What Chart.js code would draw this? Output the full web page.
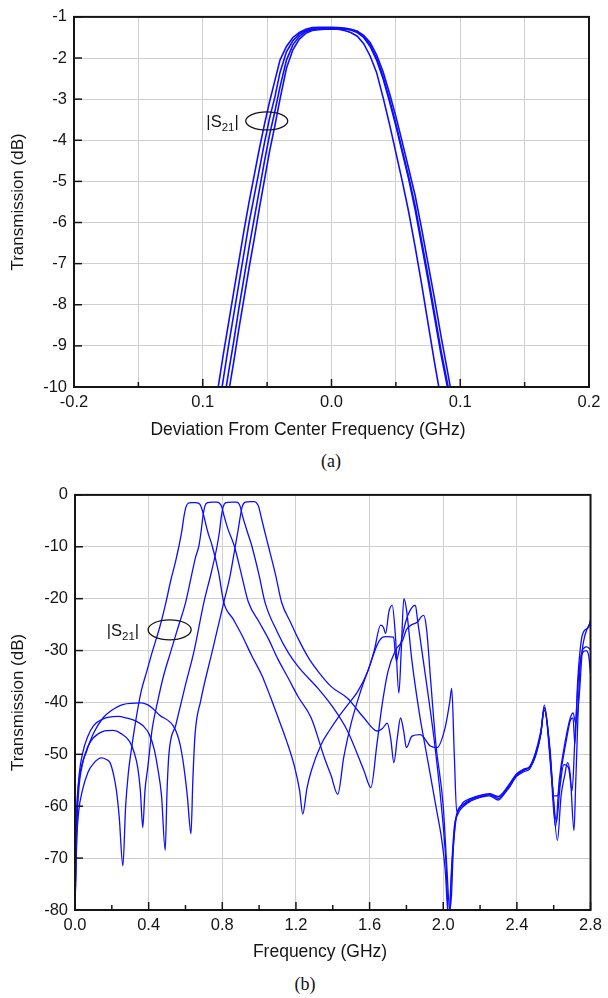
<!DOCTYPE html>
<html>
<head>
<meta charset="utf-8">
<script src="https://cdn.jsdelivr.net/npm/chart.js@4.4.1/dist/chart.umd.min.js"></script>
<style>
  html, body { margin: 0; padding: 0; background: #fff; }
  body { width: 608px; height: 998px; position: relative; overflow: hidden; }
  .panel { position: absolute; left: 0; width: 608px; }
  .caption {
    position: absolute; font-family: "Liberation Serif", "Times New Roman", serif;
    font-size: 18px; color: #111; width: 40px; text-align: center;
  }
</style>
</head>
<body>
<div class="panel" style="top:0;height:445px"><canvas id="chartA" width="608" height="445"></canvas></div>
<div class="caption" style="top:451px;left:311px">(a)</div>
<div class="panel" style="top:478px;height:492px"><canvas id="chartB" width="608" height="492"></canvas></div>
<div class="caption" style="top:974px;left:285px">(b)</div>

<script>
// ---- (a) deviation from centre frequency, four tuned states ----
const offsetGHz = [-0.092, -0.088, -0.084, -0.08, -0.076, -0.072, -0.068, -0.064, -0.06, -0.056, -0.052, -0.048, -0.044, -0.04, -0.035, -0.03, -0.025, -0.02, -0.015, -0.01, -0.005, 0, 0.005, 0.01, 0.015, 0.02, 0.025, 0.03, 0.035, 0.04, 0.045, 0.05, 0.055, 0.06, 0.065, 0.07, 0.075, 0.08, 0.085, 0.09, 0.094];
const s21StateA = [-10.8, -10.0, -9.2, -8.45, -7.7, -6.95, -6.2, -5.5, -4.85, -4.2, -3.6, -3.05, -2.55, -2.05, -1.72, -1.5, -1.38, -1.3, -1.26, -1.25, -1.25, -1.25, -1.26, -1.27, -1.3, -1.35, -1.48, -1.68, -2.0, -2.45, -3.0, -3.6, -4.25, -4.9, -5.6, -6.45, -7.3, -8.2, -9.1, -9.9, -10.6];
const s21StateB = [-11.4, -10.6, -9.8, -9.0, -8.25, -7.5, -6.75, -6.0, -5.35, -4.7, -4.05, -3.45, -2.95, -2.35, -1.85, -1.58, -1.42, -1.33, -1.28, -1.27, -1.27, -1.27, -1.28, -1.29, -1.32, -1.38, -1.5, -1.72, -2.05, -2.5, -3.05, -3.65, -4.3, -4.95, -5.7, -6.55, -7.4, -8.3, -9.2, -10.0, -10.7];
const s21StateC = [-12.1, -11.3, -10.45, -9.65, -8.9, -8.1, -7.35, -6.6, -5.9, -5.2, -4.5, -3.85, -3.3, -2.7, -2.05, -1.68, -1.47, -1.36, -1.31, -1.29, -1.28, -1.29, -1.3, -1.33, -1.38, -1.47, -1.65, -1.95, -2.35, -2.95, -3.6, -4.3, -5.0, -5.75, -6.6, -7.5, -8.45, -9.4, -10.3, -11.2, -11.9];
const s21StateD = [-12.6, -11.8, -10.95, -10.15, -9.4, -8.6, -7.85, -7.1, -6.4, -5.65, -4.95, -4.25, -3.65, -3.0, -2.25, -1.8, -1.54, -1.4, -1.33, -1.31, -1.3, -1.3, -1.3, -1.3, -1.31, -1.35, -1.45, -1.62, -1.92, -2.33, -2.85, -3.42, -4.05, -4.7, -5.35, -6.15, -7.0, -7.85, -8.75, -9.6, -10.3];
const xLabelsA = ['-0.2', '0.1', '0.0', '0.1', '0.2'];

// ---- (b) wide-band response, four tuned states ----
const freqA = [0, 0.005, 0.01, 0.02, 0.04, 0.07, 0.1, 0.144, 0.17, 0.19, 0.21, 0.225, 0.24, 0.26, 0.275, 0.29, 0.305, 0.33, 0.359, 0.39, 0.42, 0.46, 0.494, 0.52, 0.545, 0.565, 0.58, 0.592, 0.603, 0.615, 0.63, 0.655, 0.67, 0.68, 0.69, 0.70, 0.72, 0.745, 0.78, 0.808, 0.86, 0.906, 0.96, 1.014, 1.06, 1.104, 1.15, 1.194, 1.22, 1.237, 1.26, 1.283, 1.337, 1.38, 1.427, 1.48, 1.535, 1.589, 1.625, 1.66, 1.675, 1.687, 1.705, 1.723, 1.74, 1.759, 1.772, 1.786, 1.80, 1.83, 1.87, 1.92, 1.96, 1.99, 2.01, 2.03, 2.045, 2.06, 2.08, 2.11, 2.15, 2.2, 2.25, 2.3, 2.35, 2.4, 2.44, 2.47, 2.5, 2.53, 2.549, 2.565, 2.58, 2.61, 2.63, 2.66, 2.69, 2.705, 2.72, 2.74, 2.755, 2.77, 2.8];
const lossA = [-80, -72, -66, -61, -57, -53.5, -51.8, -50.7, -51, -51.6, -54, -57, -62, -71.5, -60, -53.5, -49.4, -43.5, -37.9, -34, -30.2, -25.5, -20.7, -16.5, -13, -9.8, -7, -4.1, -2.3, -1.6, -1.5, -1.5, -1.6, -1.9, -2.8, -4.1, -7, -9.8, -15, -20.7, -24, -27, -31, -34.7, -38.8, -43, -47.5, -52.6, -57, -61.5, -56.5, -53.2, -48.1, -45.5, -43, -40.5, -37.9, -34.1, -30, -25.1, -25.5, -26.7, -22.5, -21.3, -27, -38.2, -30, -20, -22, -32, -42, -52, -60, -66, -72, -82, -72, -64, -61.5, -60, -59, -58.3, -58, -58.8, -56.5, -54, -53, -52.5, -50.5, -46, -41, -44, -50, -64, -55, -48, -43, -42, -44, -38, -30, -27, -24.5];

const freqB = [0, 0.005, 0.01, 0.02, 0.04, 0.07, 0.1, 0.15, 0.206, 0.25, 0.296, 0.32, 0.341, 0.355, 0.368, 0.38, 0.395, 0.42, 0.449, 0.48, 0.52, 0.56, 0.601, 0.63, 0.655, 0.673, 0.685, 0.695, 0.705, 0.72, 0.745, 0.77, 0.785, 0.797, 0.81, 0.83, 0.865, 0.905, 0.942, 1.0, 1.05, 1.1, 1.158, 1.212, 1.283, 1.355, 1.39, 1.427, 1.46, 1.5, 1.55, 1.6, 1.64, 1.668, 1.69, 1.73, 1.745, 1.76, 1.8, 1.835, 1.849, 1.86, 1.9, 1.95, 1.99, 2.015, 2.03, 2.05, 2.07, 2.11, 2.15, 2.2, 2.25, 2.3, 2.35, 2.4, 2.44, 2.47, 2.5, 2.53, 2.549, 2.585, 2.62, 2.64, 2.66, 2.675, 2.69, 2.71, 2.72, 2.745, 2.765, 2.78, 2.8];
const lossB = [-80, -72, -64, -57, -52, -48.5, -46.8, -45.6, -45.4, -46, -47.5, -49.5, -52.6, -57, -64.1, -57, -52.6, -44.9, -39.8, -35, -30.2, -25.5, -20.7, -16, -12, -9.8, -7, -4.1, -2.2, -1.5, -1.4, -1.4, -1.6, -2.3, -4.1, -6.5, -9.8, -15.5, -20.7, -24.5, -27.7, -31.5, -35.3, -38.9, -43, -50.7, -54, -57.7, -50.5, -44, -38, -33, -29, -27.5, -27.3, -27.4, -32, -30, -24, -21.5, -21.3, -24, -34, -47, -60, -71, -82, -70, -62.5, -59.8, -58.8, -58.2, -57.8, -58.5, -56.8, -54.2, -53.3, -52.8, -50.2, -46, -40.5, -52, -66.6, -58, -54, -51.6, -54, -64.7, -55, -32, -29.5, -29.3, -29.8];

const freqC = [0, 0.005, 0.01, 0.02, 0.04, 0.07, 0.1, 0.15, 0.233, 0.28, 0.332, 0.37, 0.404, 0.43, 0.449, 0.47, 0.49, 0.50, 0.51, 0.548, 0.60, 0.646, 0.70, 0.74, 0.772, 0.785, 0.795, 0.805, 0.82, 0.85, 0.875, 0.888, 0.898, 0.91, 0.935, 0.96, 1.0, 1.032, 1.1, 1.16, 1.212, 1.32, 1.39, 1.48, 1.57, 1.607, 1.64, 1.67, 1.70, 1.74, 1.78, 1.80, 1.83, 1.86, 1.88, 1.894, 1.91, 1.93, 1.96, 2.0, 2.02, 2.035, 2.045, 2.055, 2.07, 2.11, 2.15, 2.2, 2.25, 2.3, 2.35, 2.4, 2.44, 2.47, 2.5, 2.53, 2.549, 2.59, 2.615, 2.635, 2.655, 2.68, 2.7, 2.715, 2.735, 2.755, 2.775, 2.79, 2.8];
const lossC = [-80, -70, -62, -55, -50, -46.5, -44.5, -43.2, -42.7, -43, -43.6, -44.5, -46.2, -49, -52.6, -58, -68.5, -57, -50, -44.3, -36.6, -30.2, -20.7, -15, -9.8, -7, -4.1, -2.3, -1.5, -1.4, -1.4, -1.6, -2.3, -4.1, -7, -9.8, -15.5, -20.7, -26.5, -30.5, -33.1, -37.3, -40.4, -45.5, -53.2, -56.4, -48, -40, -34, -30, -28, -26, -25, -24.5, -23.5, -23.2, -26, -35, -48, -60, -72, -80, -77, -68, -62, -59.6, -58.6, -58, -57.7, -58.2, -56.4, -53.9, -53, -52.4, -50, -46, -41, -55, -63, -56, -52, -52.5, -57, -47, -35, -30.5, -30, -31, -34.5];

const freqD = [0, 0.004, 0.01, 0.027, 0.063, 0.1, 0.152, 0.2, 0.26, 0.36, 0.41, 0.458, 0.54, 0.57, 0.592, 0.61, 0.63, 0.64, 0.652, 0.682, 0.745, 0.808, 0.84, 0.871, 0.885, 0.898, 0.908, 0.925, 0.955, 0.975, 0.987, 0.998, 1.01, 1.03, 1.05, 1.09, 1.122, 1.17, 1.212, 1.27, 1.32, 1.39, 1.48, 1.57, 1.642, 1.67, 1.696, 1.715, 1.732, 1.75, 1.768, 1.785, 1.80, 1.83, 1.876, 1.93, 1.966, 2.01, 2.035, 2.046, 2.06, 2.073, 2.11, 2.15, 2.2, 2.25, 2.3, 2.35, 2.4, 2.44, 2.47, 2.5, 2.53, 2.549, 2.58, 2.60, 2.62, 2.645, 2.67, 2.69, 2.705, 2.715, 2.73, 2.75, 2.77, 2.79, 2.8];
const lossD = [-80, -68, -60, -53.8, -49.4, -46, -43, -41.5, -40.4, -40.1, -40.8, -42.4, -44.9, -48, -52.6, -58, -65.3, -55, -46.2, -39.8, -30.2, -20.7, -16, -9.8, -7, -4.1, -2.3, -1.4, -1.3, -1.3, -1.6, -2.3, -4.1, -7, -9.8, -15.5, -20.7, -24.5, -27.7, -31.5, -34, -36.9, -39.2, -43, -45.5, -45, -44, -47, -51.6, -47, -43, -45.5, -48.7, -46.5, -46.2, -48.4, -48.7, -44.9, -40, -37.3, -50, -61, -59.2, -58.5, -57.9, -57.6, -58.1, -56.2, -53.7, -52.8, -52.3, -49.8, -45.5, -41.5, -49, -58, -58, -52, -47, -43.5, -43, -48, -36, -28, -26, -25.5, -24];
const xLabelsB = ['0.0', '0.4', '0.8', '1.2', '1.6', '2.0', '2.4', '2.8'];

// |S21| marker position (data coords of ellipse centre)
const markerA = [-0.0503, -3.53];
const markerB = [0.514, -26.0];

const LINE_BLUE = '#0d0dff';
const GRID_GREY = '#cfcfcf';
const INK = '#151515';
const SANS = '"Liberation Sans", Arial, Helvetica, sans-serif';

const toPoints = (xs, ys) => xs.map((x, i) => ({ x: x, y: ys[i] }));

// inward tick marks, black frame, x title and the |S21| ellipse label
const paperFrame = {
  id: 'paperFrame',
  afterDatasetsDraw(chart, args, opts) {
    const { ctx, chartArea: a, scales } = chart;
    ctx.save();
    ctx.strokeStyle = INK;
    ctx.lineWidth = 1.5;
    scales.x.ticks.forEach((t, i) => {
      const px = scales.x.getPixelForValue(t.value);
      const len = i % 2 === 0 ? 8 : 5;
      ctx.beginPath();
      ctx.moveTo(px, a.bottom);
      ctx.lineTo(px, a.bottom - len);
      ctx.stroke();
    });
    scales.y.ticks.forEach((t) => {
      const py = scales.y.getPixelForValue(t.value);
      ctx.beginPath();
      ctx.moveTo(a.left, py);
      ctx.lineTo(a.left + 8, py);
      ctx.stroke();
    });
    ctx.lineWidth = 2;
    ctx.strokeRect(a.left, a.top, a.right - a.left, a.bottom - a.top);

    // x axis title (sits left of the plot centre in the original)
    ctx.fillStyle = INK;
    ctx.font = '17.5px ' + SANS;
    ctx.textAlign = 'center';
    ctx.textBaseline = 'middle';
    ctx.fillText(opts.xTitle, opts.xTitleX, a.bottom + opts.xTitleDy);

    // ellipse + |S21|
    const cx = scales.x.getPixelForValue(opts.at[0]);
    const cy = scales.y.getPixelForValue(opts.at[1]);
    ctx.lineWidth = 1.3;
    ctx.beginPath();
    ctx.ellipse(cx, cy, opts.rx, opts.ry, 0, 0, Math.PI * 2);
    ctx.stroke();

    ctx.textAlign = 'left';
    ctx.textBaseline = 'alphabetic';
    const big = '16.5px ' + SANS;
    const small = '11.5px ' + SANS;
    ctx.font = big;
    const w1 = ctx.measureText('|S').width;
    const w3 = ctx.measureText('|').width;
    ctx.font = small;
    const w2 = ctx.measureText('21').width;
    let x = cx - opts.rx - opts.gap - (w1 + w2 + w3);
    const base = cy + 6;
    ctx.font = big;
    ctx.fillText('|S', x, base);
    x += w1;
    ctx.font = small;
    ctx.fillText('21', x, base + 4);
    x += w2;
    ctx.font = big;
    ctx.fillText('|', x, base);
    ctx.restore();
  }
};

function lineSet(points, smooth, width) {
  return {
    data: points,
    borderColor: LINE_BLUE,
    borderWidth: width,
    pointRadius: 0,
    fill: false,
    tension: 0,
    cubicInterpolationMode: smooth ? 'monotone' : 'default'
  };
}

function buildOptions(cfg) {
  return {
    responsive: false,
    animation: false,
    layout: { padding: cfg.padding },
    plugins: {
      legend: { display: false },
      tooltip: { enabled: false },
      paperFrame: cfg.marker
    },
    scales: {
      x: {
        type: 'linear',
        min: cfg.xMin,
        max: cfg.xMax,
        afterFit: (s) => { s.height = cfg.xHeight; },
        border: { display: false },
        grid: {
          drawTicks: false,
          lineWidth: 1,
          color: (c) => (cfg.xGridEvery === 1 || c.index % 2 === 0) ? GRID_GREY : 'rgba(0,0,0,0)'
        },
        ticks: {
          stepSize: cfg.xStep,
          autoSkip: false,
          maxRotation: 0,
          padding: 6,
          color: INK,
          font: { family: SANS, size: 16.5 },
          callback: (v, i) => (i % 2 === 0 ? cfg.xLabels[i / 2] : '')
        },
        title: { display: false }
      },
      y: {
        min: cfg.yMin,
        max: cfg.yMax,
        afterFit: (s) => { s.width = cfg.yWidth; },
        border: { display: false },
        grid: { drawTicks: false, color: GRID_GREY, lineWidth: 1 },
        ticks: {
          stepSize: cfg.yStep,
          padding: 7,
          color: INK,
          font: { family: SANS, size: 16.5 },
          callback: (v) => String(v)
        },
        title: {
          display: true,
          text: 'Transmission (dB)',
          color: INK,
          padding: { top: 8, bottom: 0 },
          font: { family: SANS, size: 17 }
        }
      }
    }
  };
}

new Chart(document.getElementById('chartA'), {
  type: 'line',
  data: {
    datasets: [s21StateA, s21StateB, s21StateC, s21StateD].map((ys) => lineSet(toPoints(offsetGHz, ys), false, 1.6))
  },
  options: buildOptions({
    padding: { top: 13, right: 19, bottom: 5, left: 0 },
    xMin: -0.2, xMax: 0.2, xStep: 0.05, xGridEvery: 1, xLabels: xLabelsA, xHeight: 53,
    yMin: -10, yMax: -1, yStep: 1, yWidth: 74,
    marker: {
      at: markerA, rx: 21, ry: 9, gap: 7,
      xTitle: 'Deviation From Center Frequency (GHz)', xTitleX: 308, xTitleDy: 43
    }
  }),
  plugins: [paperFrame]
});

new Chart(document.getElementById('chartB'), {
  type: 'line',
  data: {
    datasets: [
      lineSet(toPoints(freqA, lossA), true, 1.3),
      lineSet(toPoints(freqB, lossB), true, 1.3),
      lineSet(toPoints(freqC, lossC), true, 1.3),
      lineSet(toPoints(freqD, lossD), true, 1.3)
    ]
  },
  options: buildOptions({
    padding: { top: 14, right: 13, bottom: 8, left: 0 },
    xMin: 0, xMax: 2.8, xStep: 0.2, xGridEvery: 2, xLabels: xLabelsB, xHeight: 52,
    yMin: -80, yMax: 0, yStep: 10, yWidth: 75,
    marker: {
      at: markerB, rx: 21.5, ry: 10, gap: 9,
      xTitle: 'Frequency (GHz)', xTitleX: 320, xTitleDy: 42
    }
  }),
  plugins: [paperFrame]
});
</script>
</body>
</html>
